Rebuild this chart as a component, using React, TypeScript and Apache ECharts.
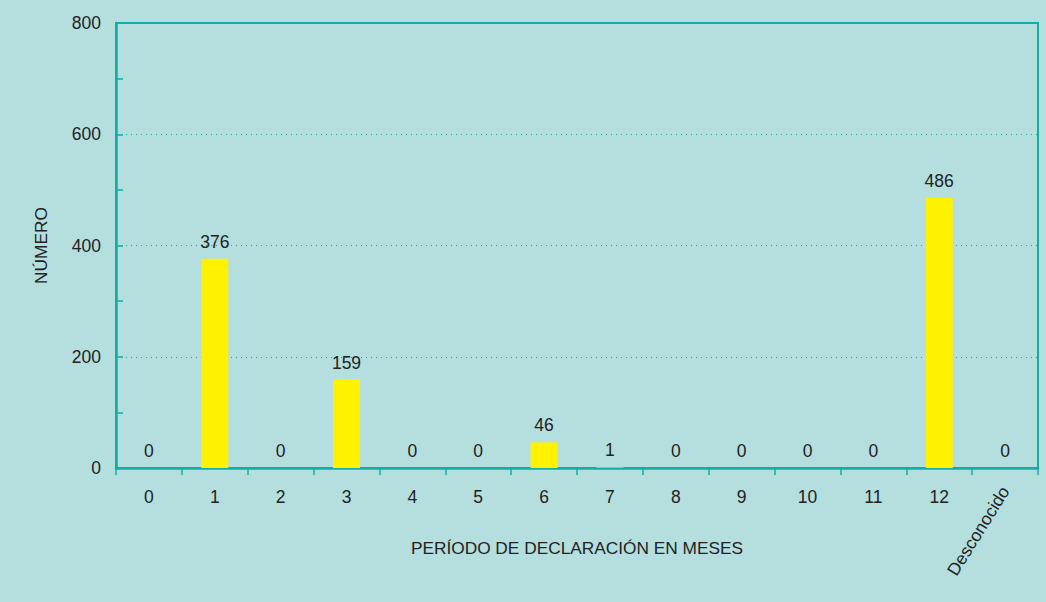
import React, { useEffect, useRef } from "react";
import * as echarts from "echarts";

const categories = ["0", "1", "2", "3", "4", "5", "6", "7", "8", "9", "10", "11", "12", "Desconocido"];
const values = [0, 376, 0, 159, 0, 0, 46, 1, 0, 0, 0, 0, 486, 0];
const yTicks = [0, 200, 400, 600, 800];

const TEAL = "#12aea6";
const FONT = "Liberation Sans, Arial, Helvetica, sans-serif";
const FS = 17.5;
const NAME_FS = 17.3;

export default function App() {
  const ref = useRef<HTMLDivElement>(null);
  useEffect(() => {
    if (!ref.current) return;
    const chart = echarts.init(ref.current, null, { renderer: "svg" });
    chart.setOption({
      animation: false,
      backgroundColor: "#b5dfdf",
      textStyle: { fontFamily: FONT },
      grid: {
        left: 116,
        right: 8,
        top: 23,
        bottom: 134,
        show: true,
        borderColor: TEAL,
        borderWidth: 2,
        backgroundColor: "transparent",
      },
      xAxis: [
        {
          type: "category",
          data: categories,
          position: "bottom",
          name: "PERÍODO DE DECLARACIÓN EN MESES",
          nameLocation: "middle",
          nameGap: 71,
          nameTextStyle: { color: "#222", fontSize: NAME_FS, fontFamily: FONT },
          axisLine: { lineStyle: { color: TEAL, width: 2.5 } },
          axisTick: { show: true, length: 7, alignWithLabel: false, lineStyle: { color: TEAL, width: 1.5 } },
          axisLabel: {
            color: "#222",
            fontSize: FS,
            margin: 20,
            fontFamily: FONT,
            formatter: (v: string) => (v === "Desconocido" ? "" : v),
          },
          splitLine: { show: false },
        },
        {
          type: "category",
          data: categories,
          position: "bottom",
          axisLine: { show: false },
          axisTick: { show: false },
          axisLabel: {
            color: "#222",
            fontSize: FS,
            margin: 20,
            rotate: 58,
            fontFamily: FONT,
            interval: 0,
            formatter: (v: string) => (v === "Desconocido" ? v : ""),
          },
          splitLine: { show: false },
        },
      ],
      yAxis: {
        type: "value",
        min: yTicks[0],
        max: yTicks[yTicks.length - 1],
        interval: 200,
        name: "NÚMERO",
        nameLocation: "middle",
        nameGap: 67,
        nameTextStyle: { color: "#222", fontSize: NAME_FS, fontFamily: FONT },
        axisLine: { show: true, lineStyle: { color: TEAL, width: 2.5 } },
        axisTick: { show: true, inside: true, length: 7, lineStyle: { color: TEAL, width: 1.5 } },
        minorTick: { show: true, splitNumber: 2, length: 7, lineStyle: { color: TEAL, width: 1.5 } },
        axisLabel: { color: "#222", fontSize: FS, margin: 15, fontFamily: FONT },
        splitLine: {
          show: true,
          lineStyle: { color: TEAL, type: [1, 4], width: 1.2 },
        },
      },
      series: [
        {
          type: "bar",
          xAxisIndex: 0,
          data: values,
          barWidth: 27,
          itemStyle: { color: "#fff200" },
          label: {
            show: true,
            position: "top",
            distance: 8,
            color: "#222",
            fontSize: FS,
            fontFamily: FONT,
          },
        },
      ],
    });
    return () => chart.dispose();
  }, []);
  return (
    <div
      ref={ref}
      style={{ position: "absolute", left: 0, top: 0, width: 1046, height: 602 }}
    />
  );
}
